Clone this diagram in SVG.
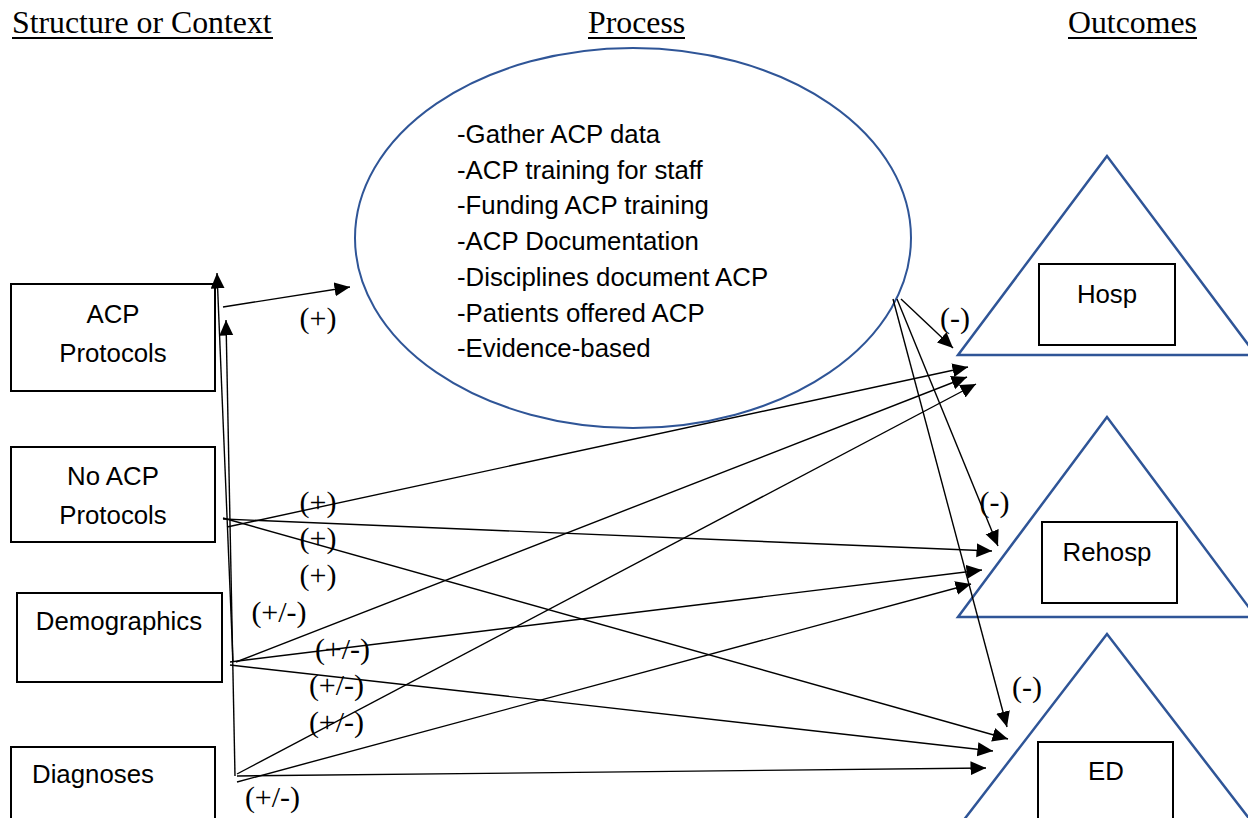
<svg xmlns="http://www.w3.org/2000/svg" width="1248" height="818" viewBox="0 0 1248 818">
<style>
.hdr{font-family:"Liberation Serif","Times New Roman",serif;font-size:31.8px;fill:#000}
.ul{stroke:#000;stroke-width:2}
.lbl{font-family:"Liberation Sans",Arial,sans-serif;font-size:25.8px;fill:#000}
.sgn{font-family:"Liberation Serif","Times New Roman",serif;font-size:30px;fill:#000;text-anchor:middle}
.box{fill:#fff;stroke:#000;stroke-width:2}
.blue{fill:#fff;stroke:#2F5597;stroke-width:2.5}
.ell{fill:#fff;stroke:#2F5597;stroke-width:2}
.c line{stroke:#000;stroke-width:1.4;marker-end:url(#ah)}
</style>
<defs>
<marker id="ah" markerUnits="userSpaceOnUse" markerWidth="17" markerHeight="15" refX="15.5" refY="7" orient="auto">
<path d="M0,0 L15.5,7 L0,14 z" fill="#000"/>
</marker>
</defs>
<rect width="1248" height="818" fill="#fff"/>

<g id="headers">
<text class="hdr" x="12" y="33">Structure or Context</text>
<line class="ul" x1="12" y1="38" x2="273" y2="38"/>
<text class="hdr" x="588" y="33">Process</text>
<line class="ul" x1="588" y1="38" x2="685" y2="38"/>
<text class="hdr" x="1068" y="33">Outcomes</text>
<line class="ul" x1="1068" y1="38" x2="1197" y2="38"/>
</g>

<g id="process">
<ellipse class="ell" cx="633" cy="238" rx="278" ry="190"/>
<text class="lbl" x="457" y="143">-Gather ACP data</text>
<text class="lbl" x="457" y="178.7">-ACP training for staff</text>
<text class="lbl" x="457" y="214.4">-Funding ACP training</text>
<text class="lbl" x="457" y="250.1">-ACP Documentation</text>
<text class="lbl" x="457" y="285.8">-Disciplines document ACP</text>
<text class="lbl" x="457" y="321.5">-Patients offered ACP</text>
<text class="lbl" x="457" y="357.2">-Evidence-based</text>
</g>

<g id="acp-protocols">
<rect class="box" x="11" y="284" width="204" height="107"/>
<text class="lbl" x="113" y="323" text-anchor="middle">ACP</text>
<text class="lbl" x="113" y="362" text-anchor="middle">Protocols</text>
</g>

<g id="no-acp-protocols">
<rect class="box" x="11" y="447" width="204" height="95"/>
<text class="lbl" x="113" y="485" text-anchor="middle">No ACP</text>
<text class="lbl" x="113" y="524" text-anchor="middle">Protocols</text>
</g>

<g id="demographics">
<rect class="box" x="17" y="593" width="205" height="89"/>
<text class="lbl" x="119" y="630" text-anchor="middle">Demographics</text>
</g>

<g id="diagnoses">
<rect class="box" x="11" y="747" width="204" height="90"/>
<text class="lbl" x="32" y="783">Diagnoses</text>
</g>

<g id="hosp">
<polygon class="blue" points="1107,156 958,355 1256,355"/>
<rect class="box" x="1039" y="264" width="136" height="81"/>
<text class="lbl" x="1107" y="303" text-anchor="middle">Hosp</text>
</g>

<g id="rehosp">
<polygon class="blue" points="1107,417 958,617 1256,617"/>
<rect class="box" x="1042" y="522" width="135" height="81"/>
<text class="lbl" x="1107" y="561" text-anchor="middle">Rehosp</text>
</g>

<g id="ed">
<polygon class="blue" points="1107,634 953,834 1261,834"/>
<rect class="box" x="1038" y="742" width="135" height="100"/>
<text class="lbl" x="1106" y="780" text-anchor="middle">ED</text>
</g>

<g id="connectors" class="c">
<line x1="223" y1="307" x2="350" y2="287"/>
<line x1="233" y1="662" x2="217" y2="273"/>
<line x1="235" y1="776" x2="226" y2="320"/>
<line x1="227" y1="527" x2="968" y2="367"/>
<line x1="223" y1="519" x2="992" y2="551"/>
<line x1="223" y1="518" x2="1008" y2="739"/>
<line x1="236" y1="662" x2="967" y2="377"/>
<line x1="230" y1="662" x2="982" y2="570"/>
<line x1="230" y1="665" x2="993" y2="751"/>
<line x1="237" y1="774" x2="976" y2="384"/>
<line x1="237" y1="782" x2="971" y2="584"/>
<line x1="237" y1="776" x2="986" y2="768"/>
<line x1="901" y1="299" x2="953" y2="348"/>
<line x1="897" y1="299" x2="998" y2="546"/>
<line x1="893" y1="299" x2="1007" y2="727"/>
</g>

<g id="signs">
<text class="sgn" x="318" y="328">(+)</text>
<text class="sgn" x="318" y="512">(+)</text>
<text class="sgn" x="318" y="548">(+)</text>
<text class="sgn" x="318" y="585">(+)</text>
<text class="sgn" x="279" y="622">(+/-)</text>
<text class="sgn" x="342.5" y="659">(+/-)</text>
<text class="sgn" x="336.5" y="695">(+/-)</text>
<text class="sgn" x="336.5" y="732">(+/-)</text>
<text class="sgn" x="272.5" y="807">(+/-)</text>
<text class="sgn" x="955" y="328">(-)</text>
<text class="sgn" x="994.5" y="512">(-)</text>
<text class="sgn" x="1027" y="697">(-)</text>
</g>
</svg>
